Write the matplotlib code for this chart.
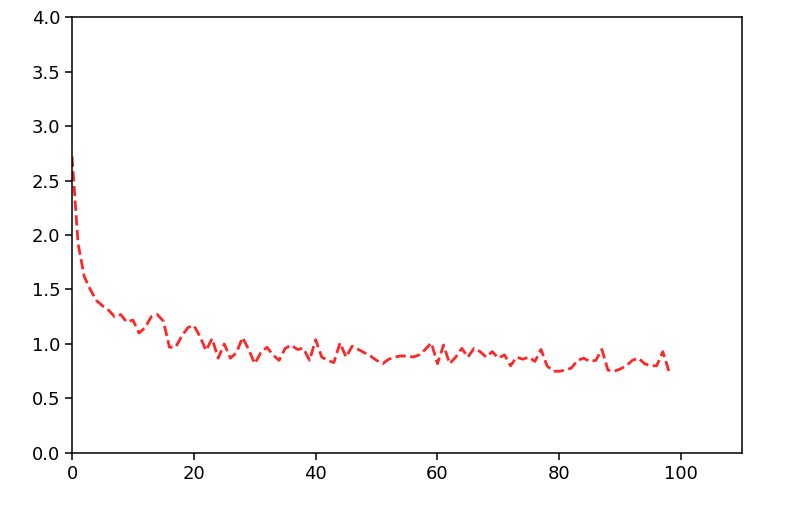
import numpy as np
import matplotlib
matplotlib.use("Agg")
import matplotlib.pyplot as plt

# loss values, one per epoch
loss = [2.72, 1.92, 1.62, 1.50, 1.40, 1.35, 1.31, 1.25, 1.27, 1.20,
        1.22, 1.10, 1.15, 1.25, 1.27, 1.21, 0.97, 0.97, 1.07, 1.15,
        1.17, 1.07, 0.94, 1.05, 0.87, 1.00, 0.87, 0.92, 1.06, 0.95,
        0.82, 0.92, 0.97, 0.90, 0.85, 0.96, 0.99, 0.95, 0.96, 0.85,
        1.04, 0.88, 0.85, 0.83, 1.01, 0.88, 0.98, 0.95, 0.92, 0.89,
        0.85, 0.82, 0.86, 0.88, 0.89, 0.89, 0.88, 0.90, 0.95, 1.01,
        0.82, 0.99, 0.82, 0.88, 0.96, 0.88, 0.96, 0.93, 0.88, 0.93,
        0.87, 0.90, 0.80, 0.88, 0.86, 0.88, 0.84, 0.95, 0.80, 0.75,
        0.75, 0.76, 0.78, 0.85, 0.87, 0.84, 0.85, 0.95, 0.76, 0.75,
        0.77, 0.80, 0.85, 0.87, 0.82, 0.80, 0.80, 0.93, 0.75]
epochs = np.arange(len(loss))

fig = plt.figure(figsize=(7.88, 5.08), dpi=100)
ax = fig.add_axes([0.0914, 0.1083, 0.8502, 0.8582])
ax.plot(epochs, loss, "r--", linewidth=2.0, alpha=0.85)
ax.set_xlim(0, 110)
ax.set_ylim(0, 4)
ax.set_yticks(np.arange(0, 4.01, 0.5))
ax.tick_params(labelsize=13, length=5, width=1.1)
for s in ax.spines.values():
    s.set_linewidth(1.1)

fig.savefig("out.png", dpi=100)
